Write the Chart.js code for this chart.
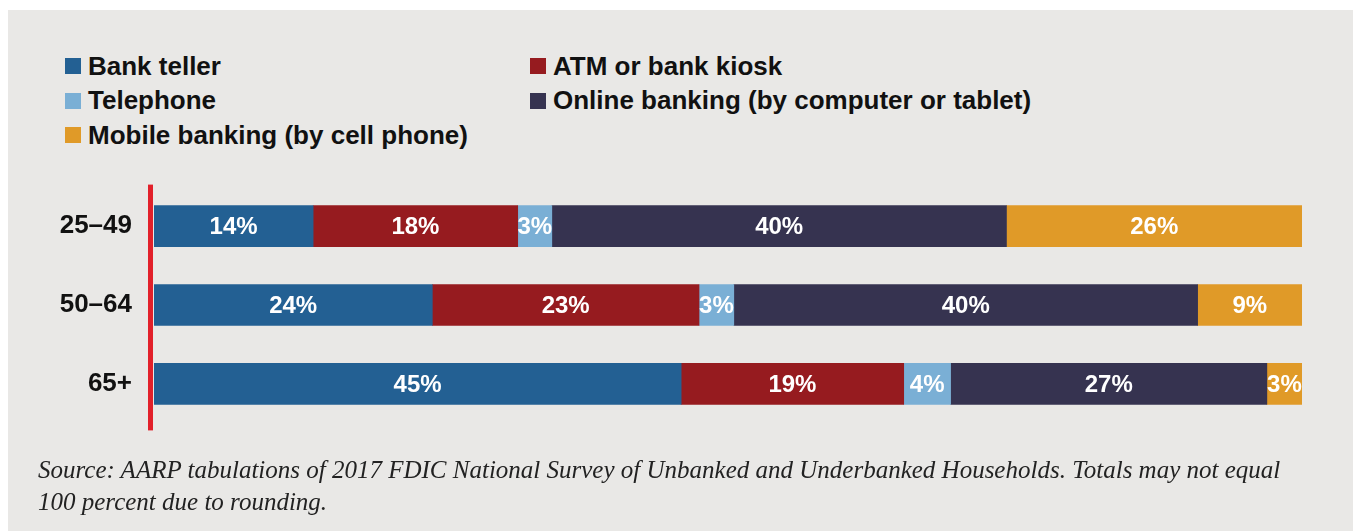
<!DOCTYPE html>
<html>
<head>
<meta charset="utf-8">
<script src="https://cdn.jsdelivr.net/npm/chart.js@4.4.1/dist/chart.umd.min.js"></script>
<style>
  html, body { margin: 0; padding: 0; background: #fff; }
  body { width: 1353px; height: 531px; position: relative; overflow: hidden; }
  #panel { position: absolute; left: 8px; top: 10px; right: 0; bottom: 0; background: #e9e8e6; }
  #legend {
    position: absolute; left: 65px; top: 49px;
    display: grid; grid-template-columns: 465px auto; grid-auto-rows: 34.5px;
    font: bold 26px "Liberation Sans", Arial, sans-serif; color: #111;
  }
  .item { display: flex; align-items: center; white-space: nowrap; }
  .swatch { width: 16px; height: 16px; margin-right: 7px; flex: none; }
  #chartBox { position: absolute; left: 0; top: 149px; width: 1353px; height: 312px; }
  #note {
    position: absolute; left: 38px; top: 454px;
    font: italic 25px "Liberation Serif", "Times New Roman", serif; color: #222; line-height: 32px;
  }
</style>
</head>
<body>
<div id="panel"></div>
<div id="legend"></div>
<div id="chartBox"><canvas id="chart" width="1353" height="312"></canvas></div>
<div id="note">Source: AARP tabulations of 2017 FDIC National Survey of Unbanked and Underbanked Households. Totals may not equal<br>100 percent due to rounding.</div>

<script>
const ageGroups = ['25–49', '50–64', '65+'];
const channels = ['Bank teller', 'ATM or bank kiosk', 'Telephone', 'Online banking (by computer or tablet)', 'Mobile banking (by cell phone)'];
const channelColors = ['#236093', '#961b1f', '#7aafd5', '#363350', '#e09a28'];

// percent of households per age group, one array per channel
const bankTeller = [14, 24, 45];
const atmKiosk = [18, 23, 19];
const telephone = [3, 3, 4];
const onlineBanking = [40, 40, 27];
const mobileBanking = [26, 9, 3];

const series = [bankTeller, atmKiosk, telephone, onlineBanking, mobileBanking];

// each row is shown as a full 100% bar, so scale by the row's total
const rowTotals = ageGroups.map((_, i) => series.reduce((s, arr) => s + arr[i], 0));

// legend in two columns
const legendEl = document.getElementById('legend');
channels.forEach((name, i) => {
  const item = document.createElement('div');
  item.className = 'item';
  item.innerHTML = '<span class="swatch" style="background:' + channelColors[i] + '"></span>' + name;
  legendEl.appendChild(item);
});

const redAxisLine = {
  id: 'redAxisLine',
  beforeDatasetsDraw(chart) {
    const { ctx, chartArea } = chart;
    ctx.save();
    ctx.fillStyle = '#e2202a';
    ctx.fillRect(chartArea.left - 6, chartArea.top - 2, 5, chartArea.bottom - chartArea.top + 9);
    ctx.restore();
  }
};

const segmentLabels = {
  id: 'segmentLabels',
  afterDatasetsDraw(chart) {
    const { ctx } = chart;
    ctx.save();
    ctx.font = 'bold 24px "Liberation Sans", Arial, sans-serif';
    ctx.fillStyle = '#fff';
    ctx.textAlign = 'center';
    ctx.textBaseline = 'middle';
    chart.data.datasets.forEach((ds, di) => {
      chart.getDatasetMeta(di).data.forEach((bar, i) => {
        ctx.fillText(ds.raw[i] + '%', (bar.x + bar.base) / 2, bar.y + 1);
      });
    });
    ctx.restore();
  }
};

new Chart(document.getElementById('chart'), {
  type: 'bar',
  data: {
    labels: ageGroups,
    datasets: series.map((arr, k) => ({
      label: channels[k],
      raw: arr,
      data: arr.map((v, i) => v / rowTotals[i] * 100),
      backgroundColor: channelColors[k],
      borderWidth: 0,
      barThickness: 41
    }))
  },
  options: {
    indexAxis: 'y',
    responsive: false,
    animation: false,
    layout: { padding: { top: 16, bottom: 17, left: 0, right: 51 } },
    plugins: { legend: { display: false }, tooltip: { enabled: false } },
    scales: {
      x: { stacked: true, min: 0, max: 100, display: false },
      y: {
        stacked: true,
        grid: { display: false, drawTicks: false },
        border: { display: false },
        ticks: {
          color: '#111',
          padding: 22,
          font: { family: '"Liberation Sans", Arial, sans-serif', size: 26, weight: 'bold' }
        },
        afterFit(scale) { scale.width = 154; }
      }
    }
  },
  plugins: [redAxisLine, segmentLabels]
});
</script>
</body>
</html>
